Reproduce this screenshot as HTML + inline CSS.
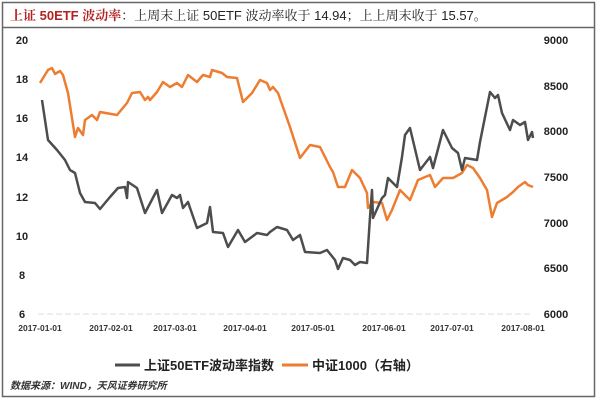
<!DOCTYPE html><html><head><meta charset="utf-8"><style>
body{margin:0;width:600px;height:401px;background:#fff;font-family:"Liberation Sans","Noto Sans CJK SC",sans-serif;overflow:hidden}
</style></head><body>
<svg width="600" height="401" style="position:absolute;left:0;top:0">
<rect x="2.5" y="2.5" width="592" height="394" fill="none" stroke="#666" stroke-width="1.5"/>
<line x1="2" y1="27.5" x2="595" y2="27.5" stroke="#666" stroke-width="1.5"/>
<text x="10" y="20" font-size="13" fill="#b22222" font-weight="bold" font-family="Liberation Sans,Noto Serif CJK SC,serif">上证 50ETF 波动率<tspan fill="#222" font-weight="normal">：上周末上证 50ETF 波动率收于 14.94；上上周末收于 15.57。</tspan></text>
<line x1="38" y1="314" x2="530" y2="314" stroke="#ddd" stroke-dasharray="6,3"/>
<g font-size="11" font-weight="bold" fill="#222" text-anchor="middle">
<text x="22" y="44">20</text><text x="22" y="83">18</text><text x="22" y="122">16</text><text x="22" y="161">14</text><text x="22" y="201">12</text><text x="22" y="240">10</text><text x="22" y="279">8</text><text x="22" y="318">6</text>
<text x="556" y="44">9000</text><text x="556" y="90">8500</text><text x="556" y="135">8000</text><text x="556" y="181">7500</text><text x="556" y="227">7000</text><text x="556" y="272">6500</text><text x="556" y="318">6000</text>
</g>
<g font-size="8.5" font-weight="bold" fill="#333" text-anchor="middle">
<text x="40" y="331">2017-01-01</text><text x="111" y="331">2017-02-01</text><text x="175" y="331">2017-03-01</text><text x="245" y="331">2017-04-01</text><text x="313" y="331">2017-05-01</text><text x="384" y="331">2017-06-01</text><text x="452" y="331">2017-07-01</text><text x="523" y="331">2017-08-01</text>
</g>
<polyline fill="none" stroke="#ed7d31" stroke-width="2.5" stroke-linejoin="round" points="40,83 48,70 52,68 55,74 60,71 63,75 68,93 75,137 78,128 83,135 85,120 92,115 97,120 100,112 117,115 127,103 132,93 140,92 145,100 148,97 150,100 157,92 163,82 170,87 177,83 182,87 188,75 197,82 203,75 210,77 212,70 222,73 227,77 237,78 243,102 252,93 260,80 267,83 270,90 273,87 278,93 290,127 300,158 310,145 320,147 330,167 333,172 338,187 345,187 352,170 360,178 367,193 368,208 373,202 382,203 387,220 392,210 400,190 410,200 418,180 430,175 435,187 443,178 453,178 462,173 467,165 473,168 480,178 487,190 492,217 497,203 507,197 513,192 518,187 525,182 528,185 533,187"/>
<polyline fill="none" stroke="#4d4d4d" stroke-width="2.5" stroke-linejoin="round" points="42,100 48,140 57,150 65,160 70,170 75,173 80,193 85,202 95,203 100,209 110,197 118,188 125,187 127,198 128,182 137,188 145,213 157,190 162,213 172,195 177,198 180,195 183,208 188,202 197,228 207,223 210,207 213,232 223,233 228,247 238,230 245,242 257,233 267,235 270,232 277,227 287,230 293,240 300,235 305,252 320,253 327,250 335,260 338,269 343,258 350,260 355,265 360,262 367,263 370,217 372,190 373,218 382,198 385,195 388,178 397,187 402,157 405,135 410,128 420,170 430,157 433,168 443,130 447,138 452,148 458,153 462,170 465,158 477,160 480,142 485,117 490,92 495,98 498,95 502,113 510,130 513,120 520,125 525,122 528,140 532,132 533,138"/>
<line x1="115" y1="365" x2="140" y2="365" stroke="#4d4d4d" stroke-width="3"/>
<text x="144" y="370" font-size="13" font-weight="bold" fill="#222">上证50ETF波动率指数</text>
<line x1="282" y1="365" x2="308" y2="365" stroke="#ed7d31" stroke-width="3"/>
<text x="312" y="370" font-size="13" font-weight="bold" fill="#222">中证1000（右轴）</text>
<text x="10" y="389" font-size="10" font-style="italic" font-weight="bold" fill="#333">数据来源：WIND，天风证券研究所</text>
</svg>
</body></html>
